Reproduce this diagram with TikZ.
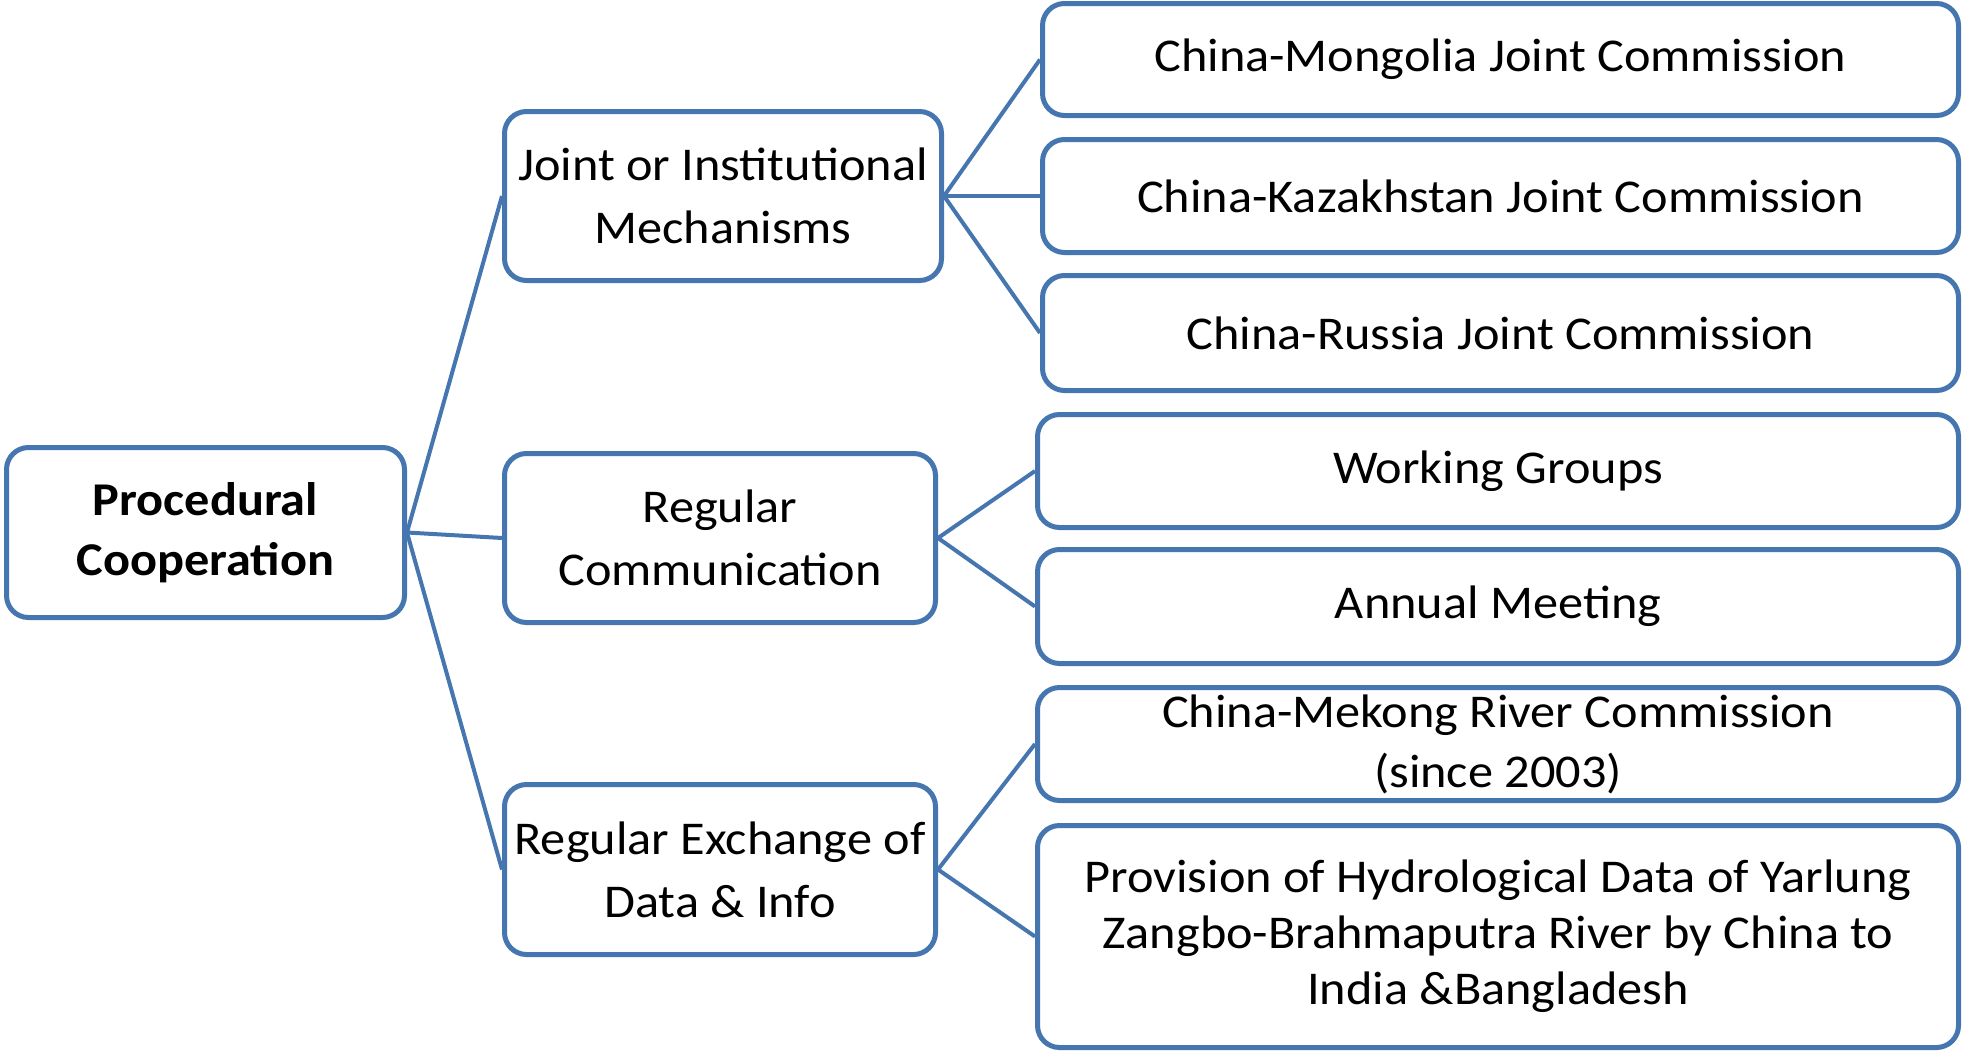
\documentclass[tikz,border=0pt]{standalone}
\usepackage{fontspec}
\setmainfont{Carlito}[FakeStretch=1.07]
\definecolor{sablue}{RGB}{70,118,175}
\begin{document}
\begin{tikzpicture}[x=1pt,y=-1pt,
    box/.style={draw=sablue,line width=5pt,rounded corners=22pt,fill=white,align=center,inner sep=0pt,font=\fontsize{47}{60}\selectfont},
    conn/.style={draw=sablue,line width=4pt}]
    \useasboundingbox (0,0) rectangle (1964,1052);
    % root
    \node[box,minimum width=398pt,minimum height=170pt] (proc) at (205.5,532.5) {\textbf{Procedural}\\\textbf{Cooperation}};
    % second level
    \node[box,minimum width=437pt,minimum height=169pt,font=\fontsize{47}{63}\selectfont] (joint) at (723,196) {Joint or Institutional\\Mechanisms};
    \node[box,minimum width=431pt,minimum height=169pt,font=\fontsize{47}{63}\selectfont] (comm) at (720,538) {Regular\\Communication};
    \node[box,minimum width=431pt,minimum height=170pt,font=\fontsize{47}{63}\selectfont] (exch) at (720,869.5) {Regular Exchange of\\Data \& Info};
    % leaves
    \node[box,minimum width=916pt,minimum height=112pt] (mongolia) at (1500.5,59.5) {China-Mongolia Joint Commission};
    \node[box,minimum width=916pt,minimum height=113pt] (kazakh) at (1500.5,196) {China-Kazakhstan Joint Commission};
    \node[box,minimum width=916pt,minimum height=115pt] (russia) at (1500.5,333) {China-Russia Joint Commission};
    \node[box,minimum width=921pt,minimum height=113pt] (groups) at (1498,471) {Working Groups};
    \node[box,minimum width=921pt,minimum height=114pt] (annual) at (1498,606.5) {Annual Meeting};
    \node[box,minimum width=921pt,minimum height=113pt] (mekong) at (1498,744) {China-Mekong River Commission\\(since 2003)};
    \node[box,minimum width=921pt,minimum height=222pt,font=\fontsize{47}{56}\selectfont] (hydro) at (1498,936.5) {Provision of Hydrological Data of Yarlung\\Zangbo-Brahmaputra River by China to\\India \&Bangladesh};
    % connectors
    \draw[conn] (proc.east) -- (joint.west);
    \draw[conn] (proc.east) -- (comm.west);
    \draw[conn] (proc.east) -- (exch.west);
    \draw[conn] (joint.east) -- (mongolia.west);
    \draw[conn] (joint.east) -- (kazakh.west);
    \draw[conn] (joint.east) -- (russia.west);
    \draw[conn] (comm.east) -- (groups.west);
    \draw[conn] (comm.east) -- (annual.west);
    \draw[conn] (exch.east) -- (mekong.west);
    \draw[conn] (exch.east) -- (hydro.west);
\end{tikzpicture}
\end{document}
